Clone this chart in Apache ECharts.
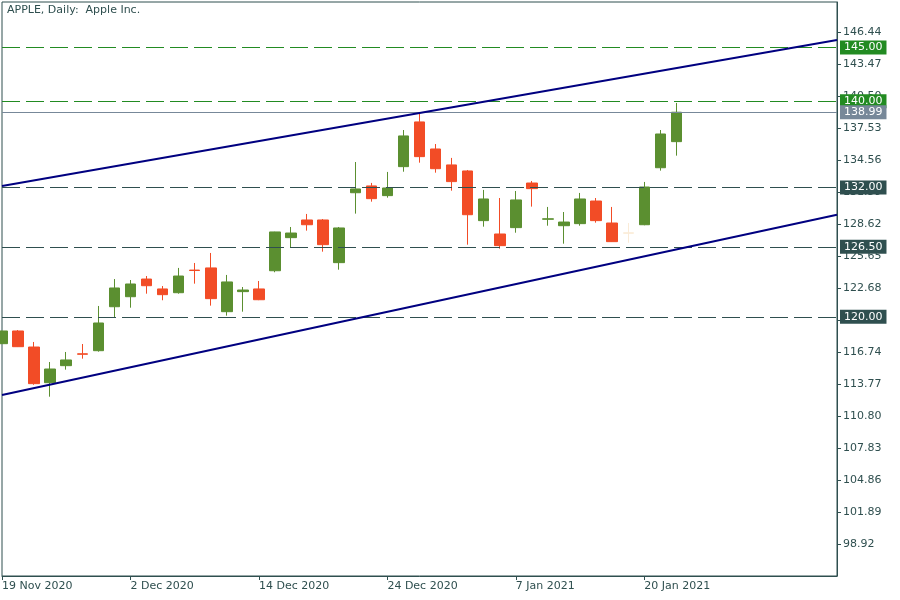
<!DOCTYPE html>
<html>
<head>
<meta charset="utf-8">
<script src="https://cdn.jsdelivr.net/npm/echarts@6/dist/echarts.min.js"></script>
<style>
html,body{margin:0;padding:0;background:#fff;}
#chart{width:900px;height:600px;}
</style>
</head>
<body>
<div id="chart"></div>
<script>
// ---- data ----
const categories = [
  '19 Nov 2020','20 Nov 2020','23 Nov 2020','24 Nov 2020','25 Nov 2020','27 Nov 2020','30 Nov 2020','1 Dec 2020',
  '2 Dec 2020','3 Dec 2020','4 Dec 2020','7 Dec 2020','8 Dec 2020','9 Dec 2020','10 Dec 2020','11 Dec 2020',
  '14 Dec 2020','15 Dec 2020','16 Dec 2020','17 Dec 2020','18 Dec 2020','21 Dec 2020','22 Dec 2020','23 Dec 2020',
  '24 Dec 2020','28 Dec 2020','29 Dec 2020','30 Dec 2020','31 Dec 2020','4 Jan 2021','5 Jan 2021','6 Jan 2021',
  '7 Jan 2021','8 Jan 2021','11 Jan 2021','12 Jan 2021','13 Jan 2021','14 Jan 2021','15 Jan 2021','19 Jan 2021',
  '20 Jan 2021','21 Jan 2021','22 Jan 2021',
  '25 Jan 2021','26 Jan 2021','27 Jan 2021','28 Jan 2021','29 Jan 2021','1 Feb 2021','2 Feb 2021','3 Feb 2021','4 Feb 2021','5 Feb 2021'
];
const xTickLabels = ['19 Nov 2020','2 Dec 2020','14 Dec 2020','24 Dec 2020','7 Jan 2021','20 Jan 2021'];

const opens  = [117.51,118.69,117.20,113.89,115.47,116.57,116.86,120.94,121.87,123.51,122.59,122.24,124.34,124.54,120.48,122.34,
                122.59,124.28,127.35,128.99,128.99,125.03,131.52,132.15,131.25,133.94,138.09,135.58,134.10,133.54,128.93,127.69,
                128.28,132.42,129.06,128.46,128.65,130.75,128.71,127.76,128.55,133.84,136.26];
const closes = [118.69,117.23,113.80,115.16,116.00,116.53,119.43,122.68,123.05,122.89,122.06,123.79,124.30,121.69,123.24,122.49,
                121.59,127.88,127.78,128.55,126.70,128.25,131.87,130.97,131.96,136.79,134.87,133.75,132.55,129.48,130.94,126.61,
                130.85,131.90,129.10,128.80,130.94,128.93,126.98,127.80,132.05,136.97,138.99];
const lows   = [117.50,117.20,113.70,112.59,115.10,116.12,116.77,119.96,120.85,122.15,121.54,122.15,123.08,121.04,120.11,120.48,
                121.55,124.14,126.48,128.00,126.05,124.38,129.58,130.69,131.06,133.47,134.31,133.38,131.71,126.70,128.37,126.33,
                127.81,130.23,128.46,126.79,128.46,128.74,126.95,126.88,128.50,133.57,134.96];
const highs  = [118.70,118.78,117.67,115.81,116.74,117.48,121.01,123.51,123.42,123.79,122.86,124.54,125.00,125.93,123.89,122.77,
                123.33,127.90,128.34,129.55,129.08,128.34,134.37,132.43,133.45,137.34,138.92,136.04,134.75,133.63,131.78,131.03,
                131.68,132.61,130.20,129.73,131.50,131.03,130.20,128.71,132.52,137.34,139.85];

const yTicks = [98.92,101.89,104.86,107.83,110.80,113.77,116.74,119.71,122.68,125.65,128.62,131.59,134.56,137.53,140.50,143.47,146.44];

const greenLevels = [145.00, 140.00];
const slateLevels = [132.00, 126.50, 120.00];
const lastPrice = 138.99;

const upperTrend = [[0, 132.15], [52, 145.70]];
const lowerTrend = [[0, 112.75], [52, 129.48]];

const fadedIndex = 39;

// ---- styles ----
const FONT = 'DejaVu Sans';
const AXIS = '#2F4F4F';
const BULL = '#5B8F30';
const BEAR = '#F24C26';
const LVL_GREEN = '#228B22';
const LVL_GRAY = '#778899';

const candleData = opens.map((o, i) => {
  const item = { value: [o, closes[i], lows[i], highs[i]] };
  if (i === fadedIndex) {
    item.itemStyle = { color: '#FAEBD7', color0: '#FAEBD7', borderColor: '#FAEBD7', borderColor0: '#FAEBD7' };
  }
  return item;
});

function levelLine(v, color, dashed) {
  return {
    yAxis: v,
    lineStyle: { color: color, width: 1, type: dashed ? [18, 6] : 'solid' },
    label: {
      show: true, position: 'end', distance: 3,
      formatter: () => v.toFixed(2),
      backgroundColor: color, color: '#fff',
      fontFamily: FONT, fontSize: 11, padding: [1, 4, 0, 4], lineHeight: 13
    }
  };
}

const markData = [
  ...greenLevels.map(v => levelLine(v, LVL_GREEN, true)),
  levelLine(lastPrice, LVL_GRAY, false),
  ...slateLevels.map(v => levelLine(v, AXIS, true))
];

const chart = echarts.init(document.getElementById('chart'), null, { renderer: 'canvas' });
chart.setOption({
  animation: false,
  backgroundColor: '#fff',
  title: {
    text: 'APPLE, Daily:  Apple Inc.',
    left: 7, top: 5, padding: 0,
    textStyle: { fontFamily: FONT, fontSize: 11, fontWeight: 'normal', color: AXIS }
  },
  grid: {
    left: 2, right: 63, top: 2, bottom: 24,
    show: true, borderColor: AXIS, borderWidth: 1, backgroundColor: 'transparent',
    containLabel: false, outerBoundsMode: 'none'
  },
  xAxis: {
    type: 'category',
    data: categories,
    boundaryGap: false,
    axisLine: { show: true, lineStyle: { color: AXIS, width: 1 } },
    axisTick: { show: true, length: 4, lineStyle: { color: AXIS }, interval: (i, v) => xTickLabels.includes(v) },
    axisLabel: {
      interval: (i, v) => xTickLabels.includes(v),
      align: 'left', margin: 5, color: AXIS, fontFamily: FONT, fontSize: 11
    },
    splitLine: { show: false }
  },
  yAxis: {
    type: 'value',
    position: 'right',
    min: 95.95, max: 149.22,
    axisLine: { show: true, lineStyle: { color: AXIS, width: 1 } },
    axisTick: { show: true, length: 4, lineStyle: { color: AXIS }, customValues: yTicks },
    axisLabel: {
      customValues: yTicks, margin: 6, color: AXIS, fontFamily: FONT, fontSize: 11,
      formatter: v => Number(v).toFixed(2)
    },
    splitLine: { show: false }
  },
  series: [
    {
      type: 'candlestick',
      data: candleData,
      barWidth: 11,
      clip: true,
      itemStyle: { color: BULL, color0: BEAR, borderColor: BULL, borderColor0: BEAR, borderWidth: 1 },
      markLine: {
        silent: true, symbol: ['none', 'none'], animation: false, z: 4,
        data: markData
      }
    },
    {
      type: 'line', data: upperTrend, symbol: 'none', silent: true, z: 6,
      lineStyle: { color: '#000080', width: 2 }
    },
    {
      type: 'line', data: lowerTrend, symbol: 'none', silent: true, z: 6,
      lineStyle: { color: '#000080', width: 2 }
    }
  ]
});
</script>
</body>
</html>
